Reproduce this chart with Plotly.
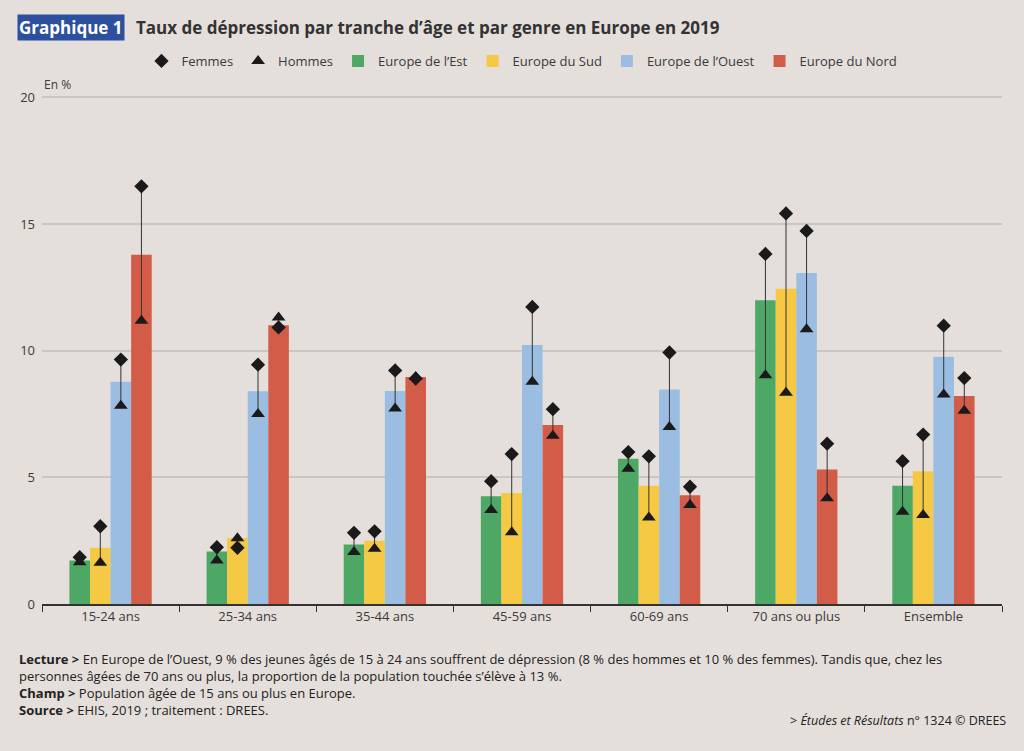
import plotly.graph_objects as go

# data (en %)
categories = ["15-24 ans", "25-34 ans", "35-44 ans", "45-59 ans", "60-69 ans", "70 ans ou plus", "Ensemble"]
regions = ["Europe de l’Est", "Europe du Sud", "Europe de l’Ouest", "Europe du Nord"]

est_total = [1.72, 2.07, 2.35, 4.25, 5.73, 11.99, 4.67]
sud_total = [2.22, 2.61, 2.50, 4.38, 4.67, 12.45, 5.24]
ouest_total = [8.77, 8.40, 8.41, 10.23, 8.47, 13.07, 9.76]
nord_total = [13.79, 11.01, 8.96, 7.07, 4.29, 5.31, 8.21]

est_femmes = [1.85, 2.24, 2.81, 4.85, 6.00, 13.82, 5.64]
sud_femmes = [3.07, 2.22, 2.87, 5.92, 5.83, 15.42, 6.69]
ouest_femmes = [9.65, 9.45, 9.22, 11.73, 9.93, 14.73, 10.99]
nord_femmes = [16.49, 10.92, 8.90, 7.69, 4.63, 6.33, 8.92]

est_hommes = [1.65, 1.72, 2.05, 3.71, 5.34, 9.03, 3.64]
sud_hommes = [1.63, 2.60, 2.18, 2.83, 3.42, 8.34, 3.51]
ouest_hommes = [7.83, 7.50, 7.72, 8.77, 6.99, 10.85, 8.27]
nord_hommes = [11.18, 11.31, 8.96, 6.64, 3.91, 4.18, 7.63]

totals = [est_total, sud_total, ouest_total, nord_total]
femmes = [est_femmes, sud_femmes, ouest_femmes, nord_femmes]
hommes = [est_hommes, sud_hommes, ouest_hommes, nord_hommes]
colors = ["#4ea865", "#f5c944", "#9bbde2", "#d25c47"]

BG = "#e4dfdb"
TXT = "#3a3a3a"
FONT = "Open Sans"
w = 0.15

# plot area in pixels: y=0 at 604, top of plot at 90
TOP, BOTTOM = 90, 604
def py(pix):
    # pixel row -> paper coordinate
    return (BOTTOM - pix) / (BOTTOM - TOP)

fig = go.Figure()

idx = list(range(len(categories)))
xs_all = []
for j in range(4):
    xs = [i + (j - 1.5) * w for i in idx]
    xs_all.append(xs)
    fig.add_trace(go.Bar(x=xs, y=totals[j], width=w, name=regions[j],
                         marker=dict(color=colors[j], line=dict(width=0)),
                         legendrank=3 + j))

# traits femmes-hommes
lx, ly = [], []
for j in range(4):
    for k in idx:
        lx += [xs_all[j][k], xs_all[j][k], None]
        ly += [femmes[j][k], hommes[j][k], None]
fig.add_trace(go.Scatter(x=lx, y=ly, mode="lines", line=dict(color="#333333", width=1),
                         showlegend=False, hoverinfo="skip"))

fx = [x for xs in xs_all for x in xs]
fig.add_trace(go.Scatter(x=fx, y=[v for s in femmes for v in s], mode="markers", name="Femmes",
                         marker=dict(symbol="diamond", size=11, color="#1a1a1a"), legendrank=1))
fig.add_trace(go.Scatter(x=fx, y=[v for s in hommes for v in s], mode="markers", name="Hommes",
                         marker=dict(symbol="triangle-up", size=12, color="#1a1a1a"), legendrank=2))

fig.update_layout(
    width=1024, height=751,
    paper_bgcolor=BG, plot_bgcolor=BG,
    barmode="overlay",
    font=dict(family=FONT, size=13, color=TXT),
    margin=dict(l=42, r=22, t=TOP, b=751 - BOTTOM),
    legend=dict(orientation="h", x=0.5, xanchor="center", y=1 - 61 / 751, yref="container",
                yanchor="middle", font=dict(size=13, color=TXT), itemwidth=30,
                traceorder="normal", bgcolor="rgba(0,0,0,0)"),
    showlegend=True,
)

fig.update_xaxes(range=[-0.5, 6.5], tickvals=idx, ticktext=categories, ticks="",
                 showgrid=False, zeroline=False, showline=True, linecolor="#333333",
                 linewidth=1.5, tickfont=dict(size=13, color=TXT),
                 minor=dict(tick0=-0.5, dtick=1, ticks="outside", ticklen=6,
                            tickcolor="#333333", showgrid=False))
fig.update_yaxes(range=[0, 20.1], tickvals=[0, 5, 10, 15, 20], showgrid=True,
                 gridcolor="#c9c6c3", gridwidth=1.5, zeroline=False, showline=False,
                 tickfont=dict(size=13, color=TXT), ticklabelstandoff=6)

# titre
fig.add_annotation(text="<b>Graphique 1</b>", xref="paper", yref="paper", x=(17 - 42) / 960,
                   y=py(22), showarrow=False, xanchor="left", yanchor="middle",
                   font=dict(family=FONT, size=17, color="white"), bgcolor="#2c4fa0",
                   borderpad=1)
fig.add_annotation(text="<b>Taux de dépression par tranche d’âge et par genre en Europe en 2019</b>",
                   xref="paper", yref="paper", x=(134 - 42) / 960, y=py(22), showarrow=False,
                   xanchor="left", yanchor="middle",
                   font=dict(family=FONT, size=17, color="#333333"))

fig.add_annotation(text="En %", xref="paper", yref="paper", x=0, y=py(80), showarrow=False,
                   xanchor="left", yanchor="middle", font=dict(size=12, color=TXT))

notes = ("<b>Lecture ></b> En Europe de l’Ouest, 9 % des jeunes âgés de 15 à 24 ans souffrent de dépression "
         "(8 % des hommes et 10 % des femmes). Tandis que, chez les<br>"
         "personnes âgées de 70 ans ou plus, la proportion de la population touchée s’élève à 13 %.<br>"
         "<b>Champ ></b> Population âgée de 15 ans ou plus en Europe.<br>"
         "<b>Source ></b> EHIS, 2019 ; traitement : DREES.")
fig.add_annotation(text=notes, xref="paper", yref="paper", x=(17 - 42) / 960, y=py(648),
                   showarrow=False, xanchor="left", yanchor="top", align="left",
                   font=dict(size=13, color="#222222"))
fig.add_annotation(text="> <i>Études et Résultats</i> n° 1324 © DREES", xref="paper", yref="paper",
                   x=(1008 - 42) / 960, y=py(722), showarrow=False, xanchor="right", yanchor="middle",
                   font=dict(size=12.5, color="#222222"))

fig.write_html("out.html", post_script="document.body.style.margin='0';",
               config={"displayModeBar": False})
